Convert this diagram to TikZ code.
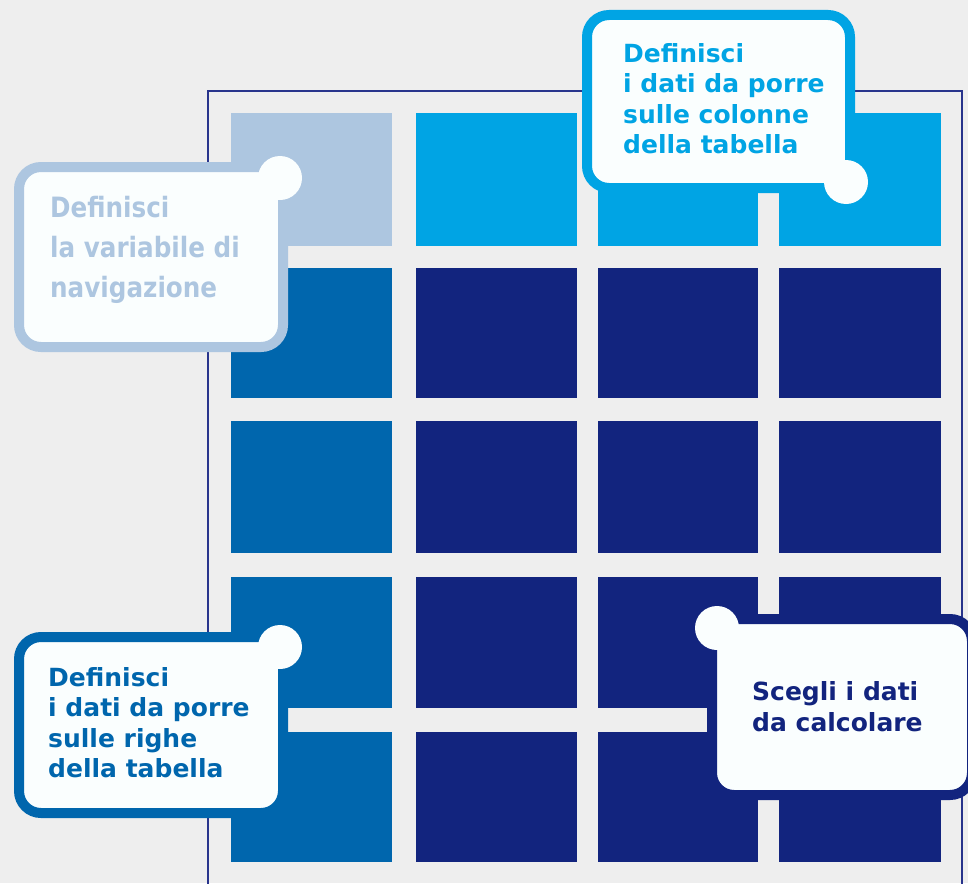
\documentclass[tikz,border=0pt]{standalone}
\usepackage{fontspec}
\newfontfamily\vfont{DejaVu Sans}
\newfontfamily\navfont{DejaVu Sans}[FakeStretch=0.88]
\definecolor{bg}{RGB}{238,238,238}
\definecolor{light}{RGB}{173,198,224}
\definecolor{cyanb}{RGB}{0,164,228}
\definecolor{midb}{RGB}{0,102,173}
\definecolor{navy}{RGB}{18,36,126}
\definecolor{framec}{RGB}{40,52,140}
\definecolor{paper}{RGB}{250,254,254}
\begin{document}
\begin{tikzpicture}[x=1pt,y=-1pt,
  box/.style={draw=#1, line width=10pt, fill=paper, rounded corners=22pt},
  bump/.style={fill=paper},
  lbl/.style={anchor=base west, inner sep=0pt, align=left, text=#1,
    font=\vfont\bfseries\fontsize{25}{30.5}\selectfont},
  navlbl/.style={anchor=base west, inner sep=0pt, align=left, text=light,
    font=\navfont\bfseries\fontsize{28}{40}\selectfont},
  framel/.style={draw=framec, line width=2.8pt},
]
\clip (0,0) rectangle (968,883);
\fill[bg] (0,0) rectangle (968,883);
% outer frame
\draw[framel] (208,900) |- (962,91) -- (962,900);
% grid cells
\def\rowsY{113/246/1, 268/398/2, 421/553/3, 577/708/4, 732/862/5}
\def\colsX{231/392/1, 416/577/2, 598/758/3, 779/941/4}
\foreach \ya/\yb/\r in \rowsY {
  \foreach \xa/\xb/\c in \colsX {
    \ifnum\r=1
      \ifnum\c=1 \def\cc{light}\else \def\cc{cyanb}\fi
    \else
      \ifnum\c=1 \def\cc{midb}\else \def\cc{navy}\fi
    \fi
    \fill[\cc] (\xa,\ya) rectangle (\xb,\yb);
  }
}
% callout: navigation variable (anchor = baseline of last line)
\draw[box=light] (19,167) rectangle (283,347);
\fill[bump] (280,178) circle (22);
\node[navlbl] (navtext) at (50,297) {Definisci\\la variabile di\\navigazione};
% callout: columns
\draw[box=cyanb] (587,15) rectangle (850,188);
\fill[bump] (846,182) circle (22);
\node[lbl=cyanb] (coltext) at (623,153.5) {Definisci\\i dati da porre\\sulle colonne\\della tabella};
% callout: rows
\draw[box=midb] (19,637) rectangle (283,813);
\fill[bump] (280,647) circle (22);
\node[lbl=midb] (rowtext) at (48,777.5) {Definisci\\i dati da porre\\sulle righe\\della tabella};
% callout: data
\draw[box=navy] (712,619) rectangle (972,795);
\fill[bump] (717,628) circle (22);
\node[lbl=navy] (calctext) at (752,731) {Scegli i dati\\da calcolare};
\end{tikzpicture}
\end{document}
